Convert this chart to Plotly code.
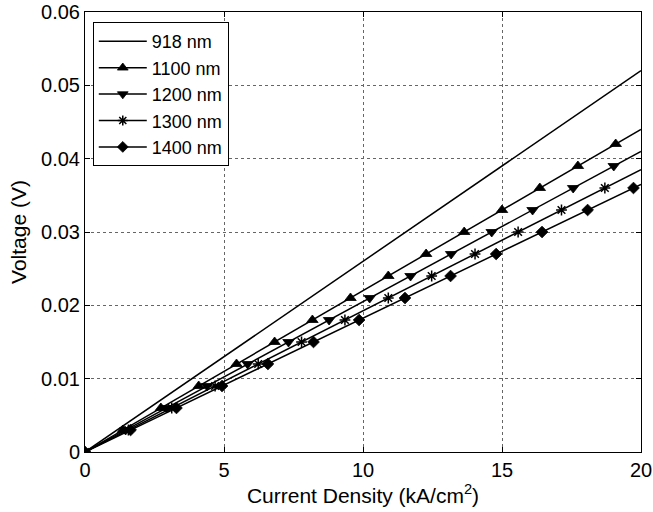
import plotly.graph_objects as go

# Data
labels = ["918 nm", "1100 nm", "1200 nm", "1300 nm", "1400 nm"]
symbols = [None, "triangle-up", "triangle-down", "asterisk-open", "diamond"]
marker_sizes = [None, 10, 10, 9, 9]

# 918 nm: line only
j_918 = [0, 20]
v_918 = [0, 0.052]

# measured points (current density kA/cm^2, voltage V)
j_1100 = [0, 1.36, 2.73, 4.09, 5.45, 6.82, 8.18, 9.55, 10.91, 12.27, 13.64, 15.0, 16.36, 17.73, 19.09]
v_1100 = [0, 0.003, 0.006, 0.009, 0.012, 0.015, 0.018, 0.021, 0.024, 0.027, 0.030, 0.033, 0.036, 0.039, 0.042]
j_1200 = [0, 1.46, 2.93, 4.39, 5.85, 7.32, 8.78, 10.24, 11.71, 13.17, 14.63, 16.10, 17.56, 19.02]
v_1200 = [0, 0.003, 0.006, 0.009, 0.012, 0.015, 0.018, 0.021, 0.024, 0.027, 0.030, 0.033, 0.036, 0.039]
j_1300 = [0, 1.56, 3.12, 4.68, 6.23, 7.79, 9.35, 10.91, 12.47, 14.03, 15.58, 17.14, 18.70]
v_1300 = [0, 0.003, 0.006, 0.009, 0.012, 0.015, 0.018, 0.021, 0.024, 0.027, 0.030, 0.033, 0.036]
j_1400 = [0, 1.64, 3.29, 4.93, 6.58, 8.22, 9.86, 11.51, 13.15, 14.79, 16.44, 18.08, 19.73]
v_1400 = [0, 0.003, 0.006, 0.009, 0.012, 0.015, 0.018, 0.021, 0.024, 0.027, 0.030, 0.033, 0.036]

# end of fitted lines at J = 20
v_end = [0.044, 0.041, 0.0385, 0.0365]

fig = go.Figure()
fig.add_trace(go.Scatter(x=j_918, y=v_918, mode="lines", name=labels[0],
                         line=dict(color="black", width=1.5)))

series = [(j_1100, v_1100), (j_1200, v_1200), (j_1300, v_1300), (j_1400, v_1400)]
for i, (js, vs) in enumerate(series):
    xs = js + [20]
    ys = vs + [v_end[i]]
    sizes = [marker_sizes[i + 1]] * len(js) + [0]
    sym = symbols[i + 1]
    mk = dict(symbol=sym, size=sizes, color="black", opacity=1,
              line=dict(color="black", width=1.5 if sym == "asterisk-open" else 0.8))
    fig.add_trace(go.Scatter(x=xs, y=ys, mode="lines+markers", name=labels[i + 1],
                             line=dict(color="black", width=1.5), marker=mk))

font = dict(family="Liberation Sans, Arial, sans-serif", size=20, color="black")
legend_font = dict(family="Liberation Sans, Arial, sans-serif", size=18, color="black")
title_font = dict(family="Liberation Sans, Arial, sans-serif", size=21, color="black")
axis_common = dict(showline=True, linecolor="black", linewidth=1, mirror="ticks",
                   ticks="inside", ticklen=5, tickcolor="black",
                   showgrid=True, gridcolor="#666666", griddash="dot", gridwidth=1,
                   zeroline=False, tickfont=font, automargin=False)

fig.update_layout(
    width=653, height=512,
    margin=dict(l=85, r=12, t=12, b=60),
    paper_bgcolor="white", plot_bgcolor="white",
    font=font,
    showlegend=True,
    legend=dict(x=0.014, y=0.977, xanchor="left", yanchor="top",
                bordercolor="black", borderwidth=1, bgcolor="white",
                font=legend_font, tracegroupgap=0, itemwidth=48),
    xaxis=dict(range=[0, 20], tickvals=[0, 5, 10, 15, 20],
               title=dict(text="Current Density (kA/cm<sup>2</sup>)", font=title_font, standoff=4),
               **axis_common),
    yaxis=dict(range=[0, 0.06], tickvals=[0, 0.01, 0.02, 0.03, 0.04, 0.05, 0.06],
               ticktext=["0", "0.01", "0.02", "0.03", "0.04", "0.05", "0.06"],
               title=dict(text="Voltage (V)", font=title_font, standoff=8),
               **axis_common),
)

fig.write_html("out.html")
